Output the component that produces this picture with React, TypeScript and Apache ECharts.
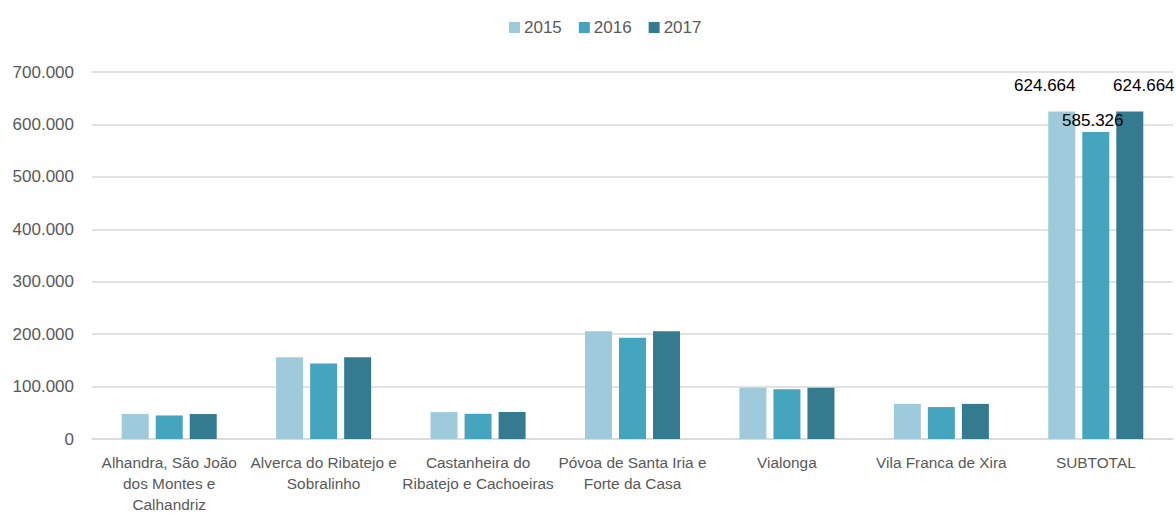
import React, { useEffect, useRef } from "react";
import * as echarts from "echarts";

const categories = [
  "Alhandra, São João\ndos Montes e\nCalhandriz",
  "Alverca do Ribatejo e\nSobralinho",
  "Castanheira do\nRibatejo e Cachoeiras",
  "Póvoa de Santa Iria e\nForte da Casa",
  "Vialonga",
  "Vila Franca de Xira",
  "SUBTOTAL",
];
const seriesNames = ["2015", "2016", "2017"];
const values2015 = [47600, 155700, 51300, 205300, 97800, 67000, 624664];
const values2016 = [44900, 143800, 48100, 192900, 94700, 60900, 585326];
const values2017 = [47600, 155700, 51300, 205300, 97800, 67000, 624664];
const colors = ["#9fcadb", "#45a5be", "#357b8f"];
const yTicks = { min: 0, max: 700000, interval: 100000 };

const fmt = (v: number) => String(Math.round(v)).replace(/\B(?=(\d{3})+(?!\d))/g, ".");

const labelOffsets: [number, number][] = [
  [-17, -17],
  [-3, -3],
  [14, -17],
];

export default function App() {
  const ref = useRef<HTMLDivElement>(null);
  useEffect(() => {
    if (!ref.current) return;
    const chart = echarts.init(ref.current, undefined, { renderer: "svg" });
    const all = [values2015, values2016, values2017];
    const font = "'Liberation Sans', Arial, sans-serif";
    chart.setOption({
      animation: false,
      color: colors,
      textStyle: { fontFamily: font },
      legend: {
        top: 14,
        left: 504,
        itemWidth: 11,
        itemHeight: 11,
        itemGap: 17,
        icon: "rect",
        textStyle: { color: "#595959", fontSize: 17, padding: [0, 0, 0, -1] },
        data: seriesNames,
      },
      grid: { left: 92, right: 3, top: 72, bottom: 72, containLabel: false },
      xAxis: {
        type: "category",
        data: categories,
        axisLine: { lineStyle: { color: "#d9d9d9", width: 1.5 } },
        axisTick: { show: false },
        axisLabel: {
          interval: 0,
          color: "#595959",
          fontSize: 15.4,
          lineHeight: 21,
          margin: 13,
          fontFamily: font,
        },
      },
      yAxis: {
        type: "value",
        min: yTicks.min,
        max: yTicks.max,
        interval: yTicks.interval,
        axisLine: { show: false },
        axisTick: { show: false },
        splitLine: { lineStyle: { color: "#d9d9d9", width: 1.5 } },
        axisLabel: {
          color: "#595959",
          fontSize: 17,
          margin: 18,
          formatter: (v: number) => fmt(v),
          fontFamily: font,
        },
      },
      series: seriesNames.map((name, si) => ({
        name,
        type: "bar",
        barWidth: 27,
        barGap: "26%",
        data: all[si].map((v, i) =>
          i === categories.length - 1
            ? {
                value: v,
                label: {
                  show: true,
                  position: "top",
                  distance: 0,
                  offset: labelOffsets[si],
                  color: "#000000",
                  fontSize: 17,
                  fontFamily: font,
                  formatter: (p: any) => fmt(p.value),
                },
              }
            : v
        ),
      })),
    });
    return () => chart.dispose();
  }, []);
  return <div ref={ref} style={{ width: 1176, height: 515, position: "absolute", left: 0, top: 0 }} />;
}
